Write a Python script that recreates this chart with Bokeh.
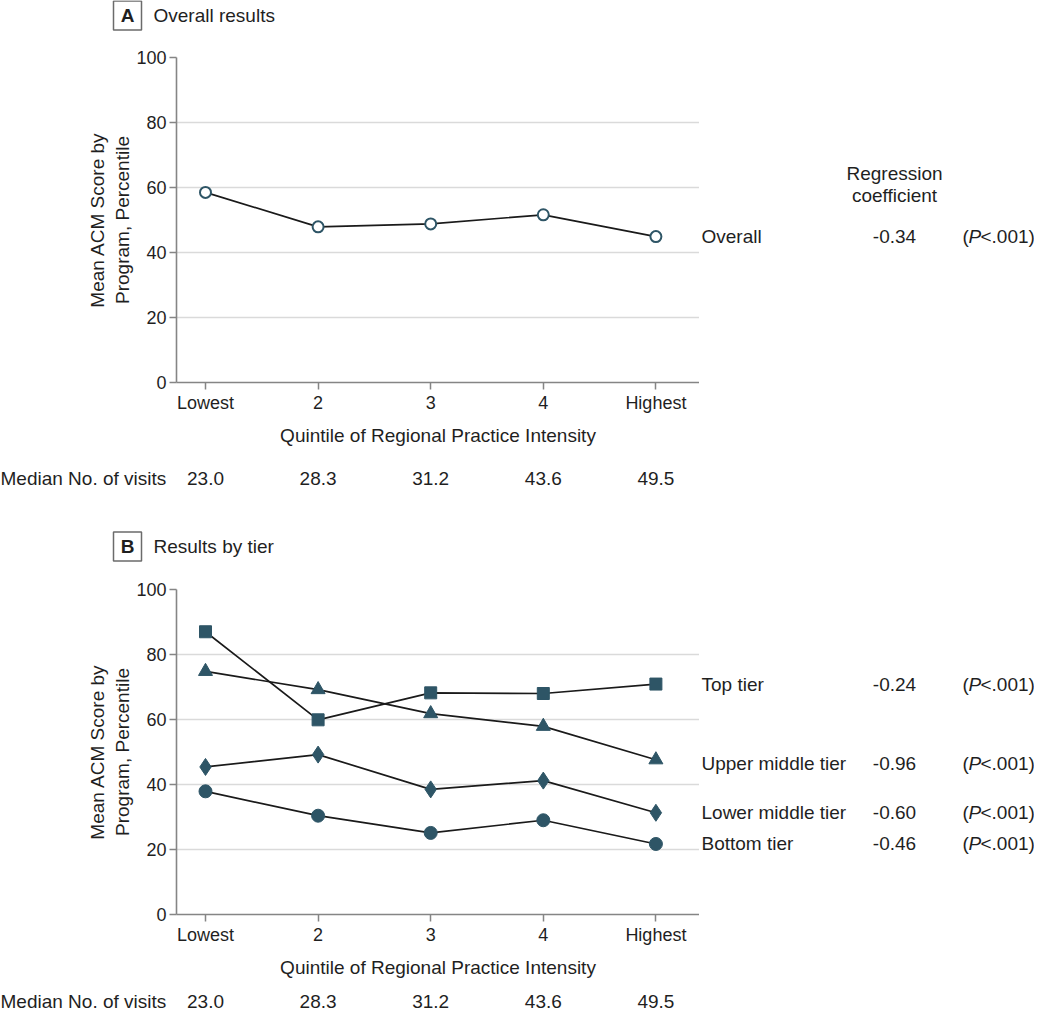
from bokeh.plotting import figure
from bokeh.models import Range1d, FixedTicker
from bokeh.layouts import column, row
from bokeh.core.properties import value
from bokeh.embed import file_html
from bokeh.resources import INLINE

# ---------------- data ----------------
quintiles = [1, 2, 3, 4, 5]
quintile_labels = ["Lowest", "2", "3", "4", "Highest"]
median_visits = ["23.0", "28.3", "31.2", "43.6", "49.5"]

overall = [58.5, 47.9, 48.8, 51.6, 44.9]
overall_coef = "-0.34"

top_tier = [87.0, 59.9, 68.2, 68.0, 70.9]
upper_middle = [74.8, 69.2, 61.8, 57.9, 47.6]
lower_middle = [45.4, 49.2, 38.5, 41.2, 31.3]
bottom_tier = [37.9, 30.4, 25.1, 29.0, 21.7]
tier_names = ["Top tier", "Upper middle tier", "Lower middle tier", "Bottom tier"]
tier_coefs = ["-0.24", "-0.96", "-0.60", "-0.46"]

y_ticks = [0, 20, 40, 60, 80, 100]

# ---------------- style / layout ----------------
FONT = value("Liberation Sans")
TXT = "#1f1f1f"
MARK = "#2e5566"
LINE = "#1a1a1a"
AXIS = "#858585"
GRID = "#dadada"
FS_TICK = "18px"
FS = "19px"

W = 1034
FL = 176            # main frame left
MAIN_W = 699        # main figure width (frame ends here)
RIGHT_W = W - MAIN_W
FH = 325            # frame height
TOP_B = 12
BOT_B = 66
PXU = 112.6         # pixels per quintile step
X_FIRST = 205       # pixel of first quintile
X0 = 1 - (X_FIRST - FL) / PXU
X1 = 1 + (MAIN_W - X_FIRST) / PXU


def blank(width, height, xr, yr, **kw):
    p = figure(width=width, height=height, x_range=xr, y_range=yr,
               output_backend="svg", toolbar_location=None,
               x_axis_location=None, y_axis_location=None, min_border=0, **kw)
    p.grid.visible = False
    p.outline_line_color = None
    p.background_fill_color = "white"
    p.border_fill_color = "white"
    return p


def txt(p, x, y, text, align="left", size=FS, style="normal"):
    p.text(x=x, y=y, text=text, text_font=FONT, text_font_size=size,
           text_font_style=style, text_align=align, text_baseline="middle",
           text_color=TXT)


def header_fig(height, cy, letter, title):
    p = blank(W, height, Range1d(0, W), Range1d(height, 0))
    p.rect(x=[127], y=[cy], width=28, height=29, fill_color="white",
           line_color="#6b6b6b", line_width=1.5)
    txt(p, [127], [cy], [letter], align="center", style="bold")
    txt(p, [153], [cy], [title])
    return p


def median_fig(height, cy):
    xs = 1 - X_FIRST / PXU
    p = blank(W, height, Range1d(xs, xs + W / PXU), Range1d(height, 0))
    txt(p, [xs], [cy], ["Median No. of visits"])
    txt(p, quintiles, [cy] * len(quintiles), median_visits, align="center")
    return p


def main_fig(yr):
    p = figure(width=MAIN_W, height=TOP_B + FH + BOT_B, x_range=Range1d(X0, X1),
               y_range=yr, output_backend="svg", toolbar_location=None,
               min_border_left=FL, min_border_right=0,
               min_border_top=TOP_B, min_border_bottom=BOT_B)
    p.outline_line_color = None
    p.background_fill_color = "white"
    p.border_fill_color = "white"
    p.xgrid.visible = False
    p.ygrid.grid_line_color = GRID
    p.ygrid.grid_line_width = 1.3
    p.xaxis.ticker = FixedTicker(ticks=quintiles)
    p.xaxis.major_label_overrides = {q: l for q, l in zip(quintiles, quintile_labels)}
    p.yaxis.ticker = FixedTicker(ticks=y_ticks)
    for ax in (p.xaxis[0], p.yaxis[0]):
        ax.axis_line_color = AXIS
        ax.axis_line_width = 1.6
        ax.major_tick_line_color = AXIS
        ax.major_tick_line_width = 1.5
        ax.major_tick_out = 7
        ax.major_tick_in = 0
        ax.minor_tick_out = 0
        ax.minor_tick_in = 0
        ax.major_label_text_font = "Liberation Sans"
        ax.major_label_text_font_size = FS_TICK
        ax.major_label_text_color = TXT
        ax.axis_label_text_font = "Liberation Sans"
        ax.axis_label_text_font_size = FS
        ax.axis_label_text_font_style = "normal"
        ax.axis_label_text_color = TXT
    p.xaxis.axis_label = "Quintile of Regional Practice Intensity"
    p.xaxis.major_label_standoff = 3
    p.xaxis.axis_label_standoff = 9
    p.yaxis.axis_label = "Mean ACM Score by\nProgram, Percentile"
    p.yaxis.major_label_standoff = 3
    p.yaxis.axis_label_standoff = 0
    return p


def right_fig(yr):
    return blank(RIGHT_W, TOP_B + FH + BOT_B, Range1d(0, RIGHT_W), yr,
                 min_border_top=TOP_B, min_border_bottom=BOT_B)


def px_to_y(py_from_top):
    return 100 - py_from_top * 100 / FH


NAME_X, COEF_X = 2, 195
PAREN_X, P_X, PV_X = 263, 269, 281


def stats_row(p, y, name, coef):
    txt(p, [NAME_X], [y], [name])
    txt(p, [COEF_X], [y], [coef], align="center")
    txt(p, [PAREN_X], [y], ["("])
    txt(p, [P_X], [y], ["P"], style="italic")
    txt(p, [PV_X], [y], ["<.001)"])


# ---------------- panel A ----------------
yrA = Range1d(0, 100)
hA = header_fig(45, 15, "A", "Overall results")
pa = main_fig(yrA)
pa.line(quintiles, overall, line_color=LINE, line_width=1.7)
pa.scatter(quintiles, overall, marker="circle", size=11, fill_color="white",
           line_color=MARK, line_width=2)
ra = right_fig(yrA)
txt(ra, [COEF_X], [px_to_y(116)], ["Regression"], align="center")
txt(ra, [COEF_X], [px_to_y(138)], ["coefficient"], align="center")
stats_row(ra, overall[-1], "Overall", overall_coef)
mA = median_fig(52, 30)

# ---------------- panel B ----------------
yrB = Range1d(0, 100)
hB = header_fig(77, 46, "B", "Results by tier")
pb = main_fig(yrB)
rb = right_fig(yrB)
series = [
    (top_tier, "square", 12),
    (upper_middle, "triangle", 14),
    (lower_middle, "diamond", 17),
    (bottom_tier, "circle", 13),
]
label_dy = [0, 4, 0, 0]
for (vals, marker, size), name, coef, dy in zip(series, tier_names, tier_coefs, label_dy):
    pb.line(quintiles, vals, line_color=LINE, line_width=1.7)
    pb.scatter(quintiles, vals, marker=marker, size=size, fill_color=MARK,
               line_color=MARK, line_width=1)
    stats_row(rb, vals[-1] - dy * 100 / FH, name, coef)
mB = median_fig(32, 21)

layout = column(hA, row(pa, ra), mA, hB, row(pb, rb), mB)
open("out.html", "w").write(file_html(layout, INLINE))
